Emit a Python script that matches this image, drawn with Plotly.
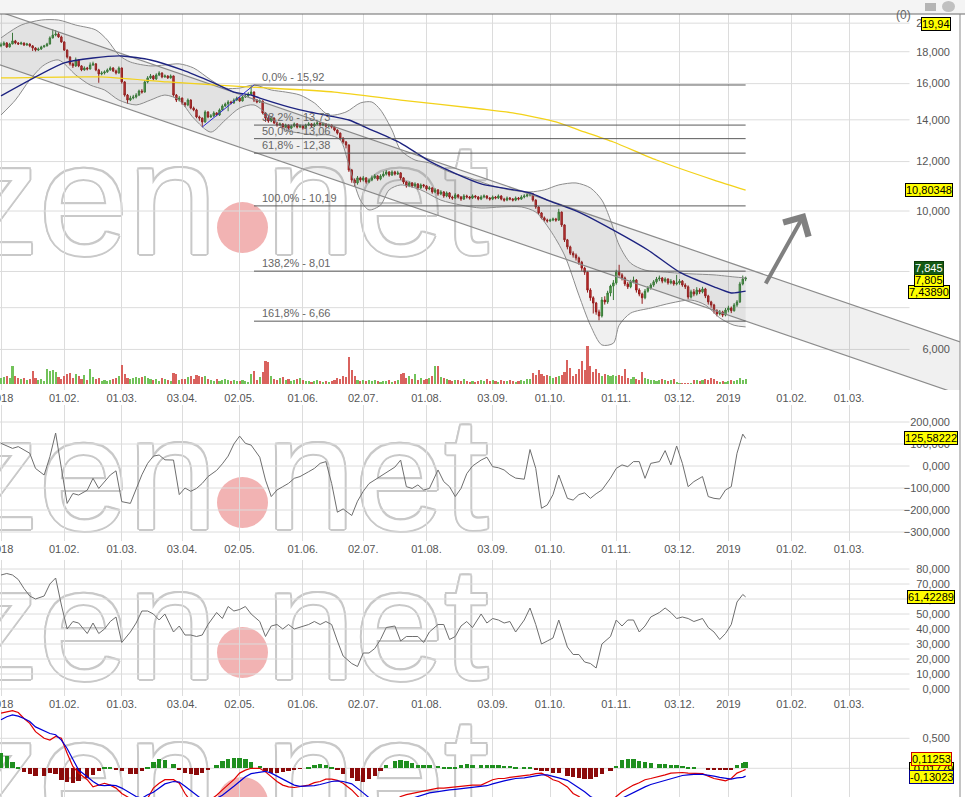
import math
import pandas as pd
import plotly.graph_objects as go

# ---------------- trading calendar (Xetra) ----------------
HOLIDAYS = ["2018-01-01", "2018-03-30", "2018-04-02", "2018-05-01", "2018-12-24",
            "2018-12-25", "2018-12-26", "2018-12-31", "2019-01-01"]
trading_days = [d for d in pd.bdate_range("2018-01-02", "2019-03-29")
                if d.strftime("%Y-%m-%d") not in HOLIDAYS]
day_of = {d.strftime("%Y-%m-%d"): i for i, d in enumerate(trading_days)}

tick_dates = ["2018-01-02", "2018-02-01", "2018-03-01", "2018-04-03", "2018-05-02", "2018-06-01",
              "2018-07-02", "2018-08-01", "2018-09-03", "2018-10-01", "2018-11-01", "2018-12-03",
              "2019-01-02", "2019-02-01", "2019-03-01"]
tick_labels = ["2018", "01.02.", "01.03.", "03.04.", "02.05.", "01.06.", "02.07.", "01.08.",
               "03.09.", "01.10.", "01.11.", "03.12.", "2019", "01.02.", "01.03."]

# ---------------- daily prices (02.01.2018 - 10.01.2019) ----------------
opens = [18.40,18.45,18.59,18.32,18.52,18.73,18.59,18.52,18.59,18.45,
 18.52,18.39,18.25,18.11,18.18,18.32,18.39,18.52,18.94,19.14,
 19.21,19.01,18.66,18.11,17.65,17.21,17.08,17.46,17.08,16.83,
 16.95,16.89,17.14,17.21,16.83,16.58,16.64,16.71,16.83,16.95,
 16.77,16.64,16.95,16.10,15.34,15.06,15.17,15.23,15.34,15.57,
 15.51,16.10,16.34,16.46,16.28,16.52,16.64,16.40,16.46,16.34,
 16.46,15.34,15.06,15.17,14.90,14.79,15.06,14.62,14.52,14.15,
 14.09,13.89,14.41,14.15,14.20,14.36,14.25,14.52,14.73,14.84,
 14.95,14.90,15.06,15.17,15.01,15.23,15.29,15.40,15.51,15.06,
 14.95,15.01,14.36,14.09,13.94,14.09,13.84,13.73,13.79,13.63,
 13.73,13.58,13.68,13.79,13.63,13.68,13.58,13.73,13.79,13.68,
 13.79,13.84,13.73,13.79,13.68,13.73,13.63,13.48,13.33,13.09,
 12.90,12.76,11.63,11.21,11.09,11.30,11.21,11.30,11.13,11.21,
 11.30,11.38,11.25,11.38,11.46,11.55,11.42,11.55,11.46,11.51,
 11.30,11.13,10.97,11.09,10.97,11.05,10.89,11.01,10.97,10.85,
 10.89,10.73,10.81,10.65,10.73,10.57,10.69,10.53,10.49,10.61,
 10.53,10.45,10.57,10.53,10.49,10.57,10.53,10.45,10.53,10.57,
 10.49,10.45,10.53,10.49,10.57,10.45,10.41,10.49,10.45,10.41,
 10.49,10.45,10.53,10.57,10.61,10.65,10.41,10.15,9.93,9.75,
 9.67,9.64,9.67,9.71,9.67,9.96,9.50,8.99,8.76,8.56,
 8.50,8.41,8.28,8.10,7.98,7.47,7.26,7.12,6.89,6.79,
 7.20,7.15,7.39,7.58,7.67,7.98,7.90,7.81,7.64,7.56,
 7.70,7.75,7.47,7.36,7.26,7.44,7.53,7.61,7.70,7.78,
 7.81,7.72,7.78,7.67,7.72,7.64,7.67,7.72,7.61,7.56,
 7.28,7.42,7.36,7.47,7.42,7.50,7.31,7.15,7.07,6.92,
 6.84,6.89,6.81,6.94,6.99,6.92,7.07,7.15,7.64,7.78]
highs = [18.62,18.70,18.65,18.60,19.30,18.80,18.65,18.68,18.62,18.60,
 18.56,18.45,18.30,18.28,18.40,18.46,18.60,19.05,19.55,19.50,
 19.35,19.10,18.70,18.15,17.70,17.30,17.62,17.50,17.12,17.05,
 17.02,17.30,17.35,17.25,16.90,16.75,16.80,16.92,17.05,17.00,
 16.85,17.05,16.98,16.15,15.40,15.30,15.35,15.45,15.65,15.68,
 16.20,16.45,16.58,16.52,16.62,16.75,16.68,16.55,16.50,16.55,
 16.48,15.40,15.28,15.20,14.95,15.15,15.10,14.70,14.58,14.22,
 14.12,14.50,14.45,14.30,14.45,14.40,14.60,14.82,14.92,15.05,
 15.02,15.15,15.25,15.22,15.30,15.38,15.50,15.92,15.55,15.12,
 15.10,15.03,14.40,14.25,14.15,14.12,13.90,13.86,13.82,13.80,
 13.76,13.75,13.86,13.82,13.76,13.72,13.80,13.88,13.82,13.86,
 13.92,13.87,13.85,13.82,13.80,13.76,13.66,13.52,13.36,13.12,
 12.95,12.78,11.68,11.28,11.38,11.35,11.38,11.33,11.28,11.40,
 11.46,11.42,11.45,11.58,11.63,11.58,11.62,11.60,11.60,11.54,
 11.33,11.16,11.15,11.12,11.12,11.08,11.07,11.05,11.00,10.96,
 10.92,10.88,10.84,10.80,10.76,10.75,10.72,10.58,10.68,10.65,
 10.57,10.64,10.62,10.57,10.63,10.61,10.57,10.60,10.63,10.60,
 10.53,10.59,10.57,10.63,10.60,10.50,10.55,10.53,10.49,10.55,
 10.53,10.60,10.64,10.68,10.72,10.68,10.44,10.18,9.96,9.80,
 9.72,9.72,9.76,9.75,10.08,9.98,9.52,9.02,8.80,8.62,
 8.55,8.45,8.32,8.14,8.00,7.52,7.30,7.15,6.95,7.28,
 7.30,7.45,7.62,7.75,8.05,8.20,7.95,7.85,7.70,7.76,
 7.85,7.78,7.52,7.40,7.50,7.58,7.66,7.75,7.84,7.88,
 7.84,7.83,7.80,7.78,7.75,7.90,7.78,7.75,7.66,7.60,
 7.48,7.50,7.55,7.52,7.56,7.53,7.34,7.18,7.10,6.96,
 6.94,6.92,6.99,7.05,7.03,7.12,7.20,7.70,7.88,7.85]
lows = [18.30,18.40,18.25,18.28,18.50,18.50,18.45,18.47,18.38,18.40,
 18.30,18.05,18.02,18.05,18.12,18.28,18.35,18.48,18.90,19.05,
 18.95,18.60,18.05,17.55,17.10,16.95,17.02,17.00,16.75,16.78,
 16.80,16.85,17.08,16.75,16.05,16.50,16.55,16.65,16.78,16.70,
 16.55,16.60,16.00,15.25,14.85,15.00,15.10,15.15,15.28,15.42,
 15.48,16.02,16.28,16.20,16.22,16.45,16.32,16.35,16.28,16.30,
 15.25,14.95,14.98,14.80,14.68,14.72,14.55,14.45,14.08,13.95,
 13.63,13.85,14.08,14.10,14.15,14.18,14.20,14.48,14.68,14.45,
 14.82,14.85,15.00,14.95,14.98,15.18,15.22,15.35,14.95,14.88,
 14.90,14.30,13.90,13.85,13.88,13.78,13.65,13.68,13.55,13.58,
 13.50,13.52,13.62,13.56,13.58,13.50,13.54,13.68,13.62,13.63,
 13.74,13.66,13.68,13.62,13.64,13.56,13.42,13.26,13.00,12.82,
 12.60,11.55,11.10,10.95,11.02,11.12,11.15,11.06,11.08,11.16,
 11.25,11.18,11.20,11.32,11.40,11.35,11.38,11.40,11.42,11.22,
 11.05,10.90,10.92,10.90,10.93,10.82,10.85,10.90,10.78,10.80,
 10.66,10.68,10.58,10.60,10.50,10.52,10.46,10.42,10.45,10.47,
 10.38,10.42,10.47,10.43,10.45,10.47,10.40,10.41,10.48,10.44,
 10.39,10.41,10.44,10.45,10.40,10.35,10.37,10.40,10.36,10.37,
 10.40,10.42,10.48,10.52,10.55,10.35,10.08,9.86,9.70,9.62,
 9.58,9.60,9.63,9.61,9.64,9.43,8.92,8.68,8.50,8.42,
 8.33,8.20,8.02,7.90,7.40,7.18,6.85,6.82,6.68,6.75,
 7.08,7.10,7.30,7.20,7.62,7.85,7.74,7.58,7.50,7.52,
 7.66,7.40,7.30,7.10,7.22,7.40,7.48,7.56,7.65,7.72,
 7.66,7.68,7.62,7.63,7.59,7.60,7.62,7.56,7.50,7.22,
 7.24,7.30,7.32,7.36,7.38,7.25,7.08,7.00,6.85,6.78,
 6.80,6.76,6.78,6.88,6.86,6.90,7.02,7.12,7.60,7.72]
closes = [18.45,18.59,18.32,18.52,18.73,18.59,18.52,18.59,18.45,18.52,
 18.39,18.25,18.11,18.18,18.32,18.39,18.52,18.94,19.14,19.21,
 19.01,18.66,18.11,17.65,17.21,17.08,17.46,17.08,16.83,16.95,
 16.89,17.14,17.21,16.83,16.58,16.64,16.71,16.83,16.95,16.77,
 16.64,16.95,16.10,15.34,15.06,15.17,15.23,15.34,15.57,15.51,
 16.10,16.34,16.46,16.28,16.52,16.64,16.40,16.46,16.34,16.46,
 15.34,15.06,15.17,14.90,14.79,15.06,14.62,14.52,14.15,14.09,
 13.89,14.41,14.15,14.20,14.36,14.25,14.52,14.73,14.84,14.95,
 14.90,15.06,15.17,15.01,15.23,15.29,15.40,15.51,15.06,14.95,
 15.01,14.36,14.09,13.94,14.09,13.84,13.73,13.79,13.63,13.73,
 13.58,13.68,13.79,13.63,13.68,13.58,13.73,13.79,13.68,13.79,
 13.84,13.73,13.79,13.68,13.73,13.63,13.48,13.33,13.09,12.90,
 12.76,11.63,11.21,11.09,11.30,11.21,11.30,11.13,11.21,11.30,
 11.38,11.25,11.38,11.46,11.55,11.42,11.55,11.46,11.51,11.30,
 11.13,10.97,11.09,10.97,11.05,10.89,11.01,10.97,10.85,10.89,
 10.73,10.81,10.65,10.73,10.57,10.69,10.53,10.49,10.61,10.53,
 10.45,10.57,10.53,10.49,10.57,10.53,10.45,10.53,10.57,10.49,
 10.45,10.53,10.49,10.57,10.45,10.41,10.49,10.45,10.41,10.49,
 10.45,10.53,10.57,10.61,10.65,10.41,10.15,9.93,9.75,9.67,
 9.64,9.67,9.71,9.67,9.96,9.50,8.99,8.76,8.56,8.50,
 8.41,8.28,8.10,7.98,7.47,7.26,7.12,6.89,6.79,7.20,
 7.15,7.39,7.58,7.67,7.98,7.90,7.81,7.64,7.56,7.70,
 7.75,7.47,7.36,7.26,7.44,7.53,7.61,7.70,7.78,7.81,
 7.72,7.78,7.67,7.72,7.64,7.67,7.72,7.61,7.56,7.28,
 7.42,7.36,7.47,7.42,7.50,7.31,7.15,7.07,6.92,6.84,
 6.89,6.81,6.94,6.99,6.92,7.07,7.15,7.64,7.78,7.805]
volume_k = [120,140,160,120,360,160,120,100,120,80,
 100,260,120,80,100,60,300,260,280,240,
 140,100,160,200,220,120,200,160,100,180,
 80,300,140,100,120,60,80,60,80,100,
 120,160,380,200,120,100,120,140,120,140,
 160,120,100,80,100,60,120,100,80,60,
 220,200,80,100,100,140,160,100,180,160,
 140,160,100,80,60,100,60,80,100,80,
 60,80,60,60,80,60,40,200,260,80,
 140,240,460,440,160,100,80,120,140,80,
 100,60,80,100,120,80,60,60,40,60,
 80,60,40,60,40,60,80,120,100,160,
 140,540,280,160,80,60,80,60,80,60,
 80,60,40,60,60,80,40,60,80,200,
 220,120,160,100,200,80,120,80,100,120,
 160,360,360,140,120,100,80,60,80,80,
 60,100,60,40,60,40,60,80,60,100,
 60,80,60,40,80,60,60,80,60,40,
 60,80,60,100,100,220,180,280,200,160,
 180,160,120,140,160,180,240,480,320,160,
 200,300,460,280,760,360,240,300,220,160,
 200,180,160,180,160,180,160,300,120,100,
 140,100,80,240,120,100,80,80,60,80,
 100,80,60,80,100,40,10,10,10,10,
 10,80,80,60,80,100,80,120,100,60,
 40,60,40,60,80,60,80,120,80,100]

# ---------------- overlays on the price chart ----------------
bb_up_days = [0,7,14,20,26,33,37,41,45,52,57,62,67,73,78,83,88,94,99,104,109,114,120,125,129,132,136,
              139,144,149,156,163,170,177,184,189,194,200,205,209,212,215,219,224,231,240,248,255,259]
bb_up = [18.94,19.86,20.23,20.23,19.86,19.50,18.79,17.78,17.33,17.08,17.14,17.21,16.95,16.22,15.74,15.74,
         15.92,15.63,15.51,15.34,14.90,14.25,14.41,14.90,14.95,14.52,13.48,12.52,12.07,11.94,11.55,11.30,
         11.01,10.81,10.73,10.81,11.01,11.09,10.89,10.41,9.67,8.82,8.25,8.04,7.98,7.93,7.90,7.84,7.81]
bb_lo_days = [0,5,10,15,20,26,31,36,41,47,52,57,62,67,73,78,83,88,94,99,104,109,114,118,121,125,128,132,
              135,139,146,153,160,167,174,181,186,191,196,201,205,209,213,215,219,226,233,240,245,250,255,259]
bb_lo = [14.25,15.06,16.22,17.14,17.46,16.52,15.92,15.63,15.06,14.79,15.06,15.34,15.06,14.09,13.38,13.99,
         14.62,14.79,14.09,13.48,13.33,13.24,13.24,13.00,11.85,10.41,10.04,10.22,10.81,11.01,10.81,10.41,
         10.22,10.11,10.15,10.15,9.96,9.32,8.50,7.33,6.56,6.10,6.14,6.56,6.86,6.99,7.12,7.20,7.07,6.74,
         6.56,6.52]
sma_days = [0,22,32,42,52,63,74,81,87,90,104,116,121,129,139,150,167,184,190,201,213,225,236,248,254,259]
sma = [15.29,17.27,17.59,17.72,17.46,16.83,16.04,15.51,15.34,15.17,14.52,14.15,13.99,13.48,12.85,11.95,
       11.05,10.69,10.41,9.96,9.32,8.66,7.98,7.56,7.39,7.4389]
sma200_days = [0,34,58,87,116,139,167,178,193,201,213,228,248,259]
sma200 = [16.34,16.40,16.10,15.80,15.51,15.06,14.57,14.36,13.89,13.48,12.90,12.07,11.21,10.80348]
chan_days = [-1, 334]
chan_upper = [20.90, 6.16]
chan_lower = [17.19, 5.07]
fib_levels = [15.92, 13.73, 13.06, 12.38, 10.19, 8.01, 6.66]
fib_labels = ["0,0% - 15,92", "38,2% - 13,73", "50,0% - 13,06", "61,8% - 12,38",
              "100,0% - 10,19", "138,2% - 8,01", "161,8% - 6,66"]

# ---------------- indicators (CCI, RSI, MACD) ----------------
ind_days = [0,2,4,6,8,10,12,15,17,19, 21,23,25,27,30,32,34,36,38,40,
            42,45,47,49,51,53,55,57,60,62, 64,66,68,70,72,75,77,79,81,83,
            85,87,90,92,94,96,98,100,102,104, 107,109,111,113,115,117,119,122,124,126,
            128,130,132,134,137,139,141,143,145,147, 149,152,154,156,158,160,162,164,167,169,
            171,173,175,177,179,182,184,186,188,190, 192,194,197,199,201,203,205,207,209,212,
            214,216,218,220,222,224,226,229,231,233, 235,237,239,241,244,246,248,250,252,254,
            256,258,259]
cci = [103,91,80,88,73,58,-11,-41,42,150, -10,-170,-125,-132,-110,-56,-102,-71,-41,-22,
       -162,-170,-109,-40,12,45,50,28,27,-130, -100,-115,-102,-79,-48,-20,10,45,100,136,
       103,95,40,-64,-139,-109,-94,-79,-56,-48, -26,-11,12,20,-79,-210,-195,-225,-160,-115,
       -80,-63,-45,-30,-5,27,-94,-102,-86,-109, -102,-18,-71,-94,-139,-102,-35,0,27,40,
       -3,-8,-18,-40,-55,-60,75,-11,-192,-177, -130,-41,-147,-155,-130,-122,-147,-126,-109,-55,
       -11,5,-3,20,20,-56,12,20,70,5, 91,12,-94,-71,-48,-139,-147,-150,-109,-94,
       58,145,125.58222]
rsi = [76,77,76,73,67,62,60,62,70,74, 56,40,45,44,37,44,37,40,45,48,
       31,38,44,52,52,50,46,50,38,42, 36,36,35,36,43,51,47,55,52,53,
       55,50,45,35,42,43,40,43,40,41, 43,45,43,45,43,32,22,17,15,24,
       24,27,33,41,42,32,35,35,35,31, 38,43,43,33,35,42,45,41,50,44,
       47,46,44,45,38,46,54,43,30,32, 34,46,28,23,23,18,17,14,30,35,
       46,42,46,46,38,42,48,51,54,51, 47,48,47,45,47,41,38,33,37,43,
       58,63,61.42289]
macd = [0.92,0.94,0.96,0.93,0.83,0.75,0.61,0.50,0.47,0.53, 0.50,0.25,0.03,-0.08,-0.19,-0.31,-0.28,-0.25,-0.28,-0.33,
        -0.42,-0.50,-0.56,-0.58,-0.50,-0.33,-0.25,-0.19,-0.19,-0.25, -0.42,-0.55,-0.62,-0.62,-0.55,-0.45,-0.36,-0.28,-0.19,-0.08,
        -0.03,0.00,0.00,-0.06,-0.14,-0.22,-0.28,-0.31,-0.32,-0.30, -0.28,-0.24,-0.22,-0.18,-0.18,-0.20,-0.25,-0.36,-0.47,-0.56,
        -0.64,-0.68,-0.66,-0.60,-0.54,-0.47,-0.44,-0.42,-0.40,-0.37, -0.36,-0.33,-0.33,-0.32,-0.31,-0.31,-0.30,-0.28,-0.28,-0.24,
        -0.19,-0.17,-0.17,-0.15,-0.14,-0.13,-0.11,-0.09,-0.08,-0.13, -0.19,-0.22,-0.31,-0.42,-0.47,-0.56,-0.64,-0.68,-0.66,-0.58,
        -0.47,-0.39,-0.33,-0.28,-0.24,-0.19,-0.17,-0.14,-0.11,-0.08, -0.07,-0.07,-0.08,-0.08,-0.09,-0.13,-0.17,-0.19,-0.21,-0.17,
        -0.08,-0.04,-0.01779]
signal = [0.81,0.86,0.89,0.87,0.83,0.78,0.69,0.63,0.58,0.56, 0.47,0.33,0.14,-0.03,-0.14,-0.22,-0.28,-0.29,-0.28,-0.29,
          -0.33,-0.42,-0.47,-0.50,-0.44,-0.40,-0.33,-0.26,-0.22,-0.23, -0.30,-0.38,-0.46,-0.52,-0.53,-0.50,-0.45,-0.38,-0.30,-0.22,
          -0.14,-0.09,-0.06,-0.05,-0.08,-0.13,-0.19,-0.24,-0.28,-0.30, -0.30,-0.29,-0.27,-0.24,-0.22,-0.21,-0.22,-0.26,-0.33,-0.41,
          -0.49,-0.56,-0.60,-0.61,-0.59,-0.56,-0.52,-0.49,-0.46,-0.43, -0.41,-0.39,-0.37,-0.36,-0.35,-0.34,-0.33,-0.32,-0.31,-0.29,
          -0.26,-0.23,-0.21,-0.19,-0.17,-0.16,-0.14,-0.12,-0.11,-0.11, -0.13,-0.16,-0.20,-0.26,-0.32,-0.39,-0.47,-0.53,-0.57,-0.58,
          -0.55,-0.50,-0.45,-0.40,-0.35,-0.31,-0.27,-0.23,-0.20,-0.17, -0.14,-0.12,-0.11,-0.10,-0.10,-0.11,-0.13,-0.15,-0.17,-0.18,
          -0.16,-0.15,-0.13023]
hist = [0.25,0.20,0.11,0.03,-0.06,-0.09,-0.13,-0.12,-0.08,-0.10, -0.19,-0.22,-0.24,-0.21,-0.16,-0.11,-0.04,0.02,0.02,-0.02,
        -0.05,-0.09,-0.09,-0.05,0.02,0.10,0.15,0.14,0.08,-0.02, -0.07,-0.10,-0.11,-0.08,-0.02,0.06,0.13,0.16,0.17,0.17,
        0.15,0.10,0.04,-0.04,-0.08,-0.08,-0.06,-0.04,-0.02,-0.01, 0.03,0.05,0.07,0.06,0.03,-0.03,-0.10,-0.16,-0.21,-0.22,
        -0.18,-0.12,-0.04,0.06,0.12,0.14,0.13,0.09,0.06,0.05, 0.05,0.04,0.03,0.03,0.02,0.05,0.07,0.06,0.05,0.05,
        0.06,0.05,0.04,0.04,0.03,0.03,0.02,-0.03,-0.04,-0.05, -0.07,-0.08,-0.12,-0.14,-0.16,-0.18,-0.18,-0.15,-0.10,-0.04,
        0.04,0.14,0.16,0.15,0.13,0.11,0.09,0.08,0.07,0.06, 0.05,0.04,0.02,0.01,0.00,-0.02,-0.03,-0.03,-0.03,-0.02,
        0.06,0.09,0.11253]

# ---------------- figure ----------------
W, H = 965, 797
FONT = "Liberation Sans, Arial, sans-serif"
PLOT_W = 960.0


def py(px):  # paper y from a pixel row
    return 1 - px / H


def pxx(px):  # paper x from a pixel column
    return px / PLOT_W


X = list(range(len(closes)))
fig = go.Figure()

# channel
fig.add_trace(go.Scatter(x=chan_days, y=chan_upper, mode="lines", line=dict(color="#8c8c8c", width=1.2),
                         hoverinfo="skip", showlegend=False, xaxis="x", yaxis="y"))
fig.add_trace(go.Scatter(x=chan_days, y=chan_lower, mode="lines", line=dict(color="#8c8c8c", width=1.2),
                         fill="tonexty", fillcolor="rgba(110,110,110,0.10)",
                         hoverinfo="skip", showlegend=False, xaxis="x", yaxis="y"))
# Bollinger bands
fig.add_trace(go.Scatter(x=bb_up_days, y=bb_up, mode="lines", line=dict(color="#8c8c8c", width=1, shape="spline", smoothing=0.8),
                         hoverinfo="skip", showlegend=False, xaxis="x", yaxis="y"))
fig.add_trace(go.Scatter(x=bb_lo_days, y=bb_lo, mode="lines", line=dict(color="#8c8c8c", width=1, shape="spline", smoothing=0.8),
                         fill="tonexty", fillcolor="rgba(110,110,110,0.10)",
                         hoverinfo="skip", showlegend=False, xaxis="x", yaxis="y"))
# moving averages
fig.add_trace(go.Scatter(x=sma200_days, y=sma200, mode="lines", line=dict(color="#f3d21a", width=1.3, shape="spline", smoothing=0.6),
                         hoverinfo="skip", showlegend=False, xaxis="x", yaxis="y"))
fig.add_trace(go.Scatter(x=sma_days, y=sma, mode="lines", line=dict(color="#1d2380", width=1.4, shape="spline", smoothing=0.6),
                         hoverinfo="skip", showlegend=False, xaxis="x", yaxis="y"))
# candles
fig.add_trace(go.Candlestick(x=X, open=opens, high=highs, low=lows, close=closes,
                             increasing=dict(line=dict(color="#2f7a2f", width=1), fillcolor="#5fbf4f"),
                             decreasing=dict(line=dict(color="#9a1010", width=1), fillcolor="#d93030"),
                             whiskerwidth=0, showlegend=False, hoverinfo="skip", xaxis="x", yaxis="y"))
# volume
vol_colors = ["#72c25a" if c >= o else "#d9625e" for o, c in zip(opens, closes)]
fig.add_trace(go.Bar(x=X, y=volume_k, marker=dict(color=vol_colors, line=dict(width=0)), width=0.75,
                     showlegend=False, hoverinfo="skip", xaxis="x", yaxis="y5"))
# CCI
fig.add_trace(go.Scatter(x=ind_days, y=cci, mode="lines", line=dict(color="#6e6e6e", width=1),
                         hoverinfo="skip", showlegend=False, xaxis="x2", yaxis="y2"))
# RSI
fig.add_trace(go.Scatter(x=ind_days, y=rsi, mode="lines", line=dict(color="#6e6e6e", width=1),
                         hoverinfo="skip", showlegend=False, xaxis="x3", yaxis="y3"))
# MACD
fig.add_trace(go.Bar(x=ind_days, y=hist, marker=dict(color=["#1f8f1f" if v >= 0 else "#8b0a0a" for v in hist], line=dict(width=0)),
                     width=1.5, showlegend=False, hoverinfo="skip", xaxis="x4", yaxis="y4"))
fig.add_trace(go.Scatter(x=ind_days, y=macd, mode="lines", line=dict(color="#e00000", width=1.2),
                         hoverinfo="skip", showlegend=False, xaxis="x4", yaxis="y4"))
fig.add_trace(go.Scatter(x=ind_days, y=signal, mode="lines", line=dict(color="#0000d8", width=1.2),
                         hoverinfo="skip", showlegend=False, xaxis="x4", yaxis="y4"))

# ---------------- axes ----------------
tick_vals = [day_of[d] for d in tick_dates]
x_range = [-0.35, (PLOT_W - 1) / 2.875]
tickfont = dict(family=FONT, size=11, color="#555555")


def xaxis(anchor, labels=True):
    return dict(anchor=anchor, domain=[0, 1], range=x_range, tickvals=tick_vals, ticktext=tick_labels,
                showticklabels=labels, showgrid=True, gridcolor="#dcdcdc", gridwidth=1, zeroline=False,
                showline=False, ticks="", tickfont=tickfont, fixedrange=True, automargin=False,
                ticklabeloverflow="allow")


def yaxis(domain, rng, tickvals, **kw):
    d = dict(domain=domain, range=rng, anchor="free", position=0.9895, side="left", tickvals=tickvals,
             tickformat=".3f", showgrid=False, zeroline=False, showline=False, ticks="",
             tickfont=tickfont, fixedrange=True, automargin=False, ticklabeloverflow="allow")
    d.update(kw)
    return d


main_top, main_bot = 14, 390
cci_top, cci_bot = 405, 541
rsi_top, rsi_bot = 560, 696
macd_top, macd_bot = 710, 797

fig.update_layout(
    xaxis=dict(xaxis("y"), rangeslider=dict(visible=False)),
    xaxis2=dict(xaxis("y2"), matches="x"),
    xaxis3=dict(xaxis("y3"), matches="x"),
    xaxis4=dict(xaxis("y4", labels=False), matches="x"),
    yaxis=yaxis([py(main_bot), py(main_top)], [math.log10(5.166), math.log10(20.687)],
                [6, 10, 12, 14, 16, 18, 20], type="log"),
    yaxis5=dict(overlaying="y", range=[-120, 7400], visible=False, fixedrange=True, automargin=False),
    yaxis2=yaxis([py(cci_bot), py(cci_top)], [-340.9, 277.3], [200, 100, 0, -100, -200, -300]),
    yaxis3=yaxis([py(rsi_bot), py(rsi_top)], [-4.667, 86.0], [80, 70, 60, 50, 40, 30, 20, 10, 0]),
    yaxis4=yaxis([py(macd_bot), py(macd_top)], [-0.4783, 0.9717], [0.5, 0, -0.5]),
)

# ---------------- shapes ----------------
shapes = []
# watermark (under everything)
WM_SIZE = 160
WM_SHADOW = ", ".join(f"{dx}px {dy}px 0 #c9c9c9" for dx, dy in
                      [(2, 0), (-2, 0), (0, 2), (0, -2), (1.5, 1.5), (-1.5, -1.5), (1.5, -1.5), (-1.5, 1.5)])
for base in [253, 528, 678, 828]:
    shapes.append(dict(type="circle", xref="paper", yref="paper", x0=pxx(217), x1=pxx(268),
                       y0=py(base), y1=py(base - 51), fillcolor="rgba(226,86,86,0.45)",
                       line=dict(width=0), layer="below"))
    cy = base - 70
    shapes.append(dict(type="rect", xref="paper", yref="paper", x0=pxx(-400), x1=pxx(220),
                       y0=py(cy + 110), y1=py(cy - 110), fillcolor="rgba(0,0,0,0)", line=dict(width=0),
                       layer="below",
                       label=dict(text="zen", textposition="middle right", padding=0,
                                  font=dict(family=FONT, size=WM_SIZE, color="white", shadow=WM_SHADOW))))
    shapes.append(dict(type="rect", xref="paper", yref="paper", x0=pxx(263), x1=pxx(900),
                       y0=py(cy + 110), y1=py(cy - 110), fillcolor="rgba(0,0,0,0)", line=dict(width=0),
                       layer="below",
                       label=dict(text="net", textposition="middle left", padding=0,
                                  font=dict(family=FONT, size=WM_SIZE, color="white", shadow=WM_SHADOW))))

# horizontal grid lines (stop before the value column)
GRID_END = 316
for yref, vals in [("y", [6, 7, 8, 10, 12, 14, 16, 18, 20]), ("y2", [200, 100, 0, -100, -200, -300]),
                   ("y3", [80, 70, 60, 50, 40, 30, 20, 10, 0]), ("y4", [0.5, 0, -0.5])]:
    xr = "x" if yref == "y" else "x" + yref[1:]
    for v in vals:
        shapes.append(dict(type="line", xref=xr, yref=yref, x0=-1, x1=GRID_END, y0=v, y1=v,
                           line=dict(color="#dcdcdc", width=1), layer="below"))

# Fibonacci retracement
for lvl in fib_levels:
    shapes.append(dict(type="line", xref="x", yref="y", x0=88, x1=259, y0=lvl, y1=lvl,
                       line=dict(color="#5a5a5a", width=1), layer="above"))
shapes.append(dict(type="line", xref="x", yref="y", x0=70, x1=88, y0=13.63, y1=15.92,
                   line=dict(color="#2b2bd0", width=1), layer="above"))

# header band, frame
shapes.append(dict(type="rect", xref="paper", yref="paper", x0=0, x1=1.01, y0=py(14), y1=1.0,
                   fillcolor="#f4f4f4", line=dict(width=0), layer="above"))
shapes.append(dict(type="line", xref="paper", yref="paper", x0=0, x1=1.01, y0=py(14), y1=py(14),
                   line=dict(color="#6a6a6a", width=1)))
shapes.append(dict(type="line", xref="paper", yref="paper", x0=1.0, x1=1.0, y0=0, y1=py(14),
                   line=dict(color="#8a8a8a", width=1)))
shapes.append(dict(type="rect", xref="paper", yref="paper", x0=pxx(925), x1=pxx(936), y0=py(11), y1=py(3),
                   fillcolor="#b5b5b5", line=dict(width=0)))
shapes.append(dict(type="circle", xref="paper", yref="paper", x0=pxx(942), x1=pxx(955), y0=py(12), y1=py(1),
                   fillcolor="#c0c0c0", line=dict(width=0)))
fig.update_layout(shapes=shapes)

# ---------------- annotations ----------------
ann = []
for lvl, lab in zip(fib_levels, fib_labels):
    ann.append(dict(x=90, y=math.log10(lvl), xref="x", yref="y", text=lab, showarrow=False,
                    xanchor="left", yanchor="bottom", yshift=0,
                    font=dict(family=FONT, size=11, color="#666666")))
# trend arrow
ann.append(dict(x=279.7, y=math.log10(9.93), ax=265.7, ay=math.log10(7.61), xref="x", yref="y",
                axref="x", ayref="y", text="", showarrow=True, arrowhead=4, arrowsize=1.4,
                arrowwidth=4, arrowcolor="#808080", standoff=0))


def tag(y, yref, text, x=929, bg="#ffff00", fg="#000000", border="#000000", yshift=0):
    return dict(x=pxx(x), xref="paper", y=y, yref=yref, text=text, showarrow=False, xanchor="center",
                yanchor="middle", yshift=yshift, bgcolor=bg, bordercolor=border, borderwidth=1, borderpad=0,
                font=dict(family=FONT, size=11, color=fg))


ann += [
    tag(math.log10(19.94), "y", "19,94", x=936),
    tag(math.log10(10.80348), "y", "10,80348"),
    tag(math.log10(7.4389), "y", "7,43890", yshift=-1),
    tag(math.log10(7.805), "y", "7,805", yshift=-2),
    tag(math.log10(7.845), "y", "7,845", bg="#145a14", fg="#ffffff", border="#0a3a0a", yshift=9),
    tag(125.58222, "y2", "125,58222", x=931),
    tag(61.42289, "y3", "61,42289", x=931),
    tag(-0.01779, "y4", "-0,01779", x=931),
    tag(0.11253, "y4", "0,11253", x=931, border="#cc0000", yshift=3),
    tag(-0.13023, "y4", "-0,13023", x=931, border="#00008b", yshift=-1),
    dict(x=pxx(913), y=py(6), xref="paper", yref="paper", text="(0)", showarrow=False,
         font=dict(family=FONT, size=12, color="#666666")),
]
fig.update_layout(annotations=ann)

fig.update_layout(
    width=W, height=H, margin=dict(l=0, r=5, t=0, b=0, autoexpand=False),
    paper_bgcolor="white", plot_bgcolor="white", separators=",.",
    showlegend=False, bargap=0, dragmode=False,
    font=dict(family=FONT, size=11, color="#555555"),
)

fig.write_html("out.html", config={"displayModeBar": False},
               post_script="document.body.style.margin='0px';document.body.style.overflow='hidden';")
